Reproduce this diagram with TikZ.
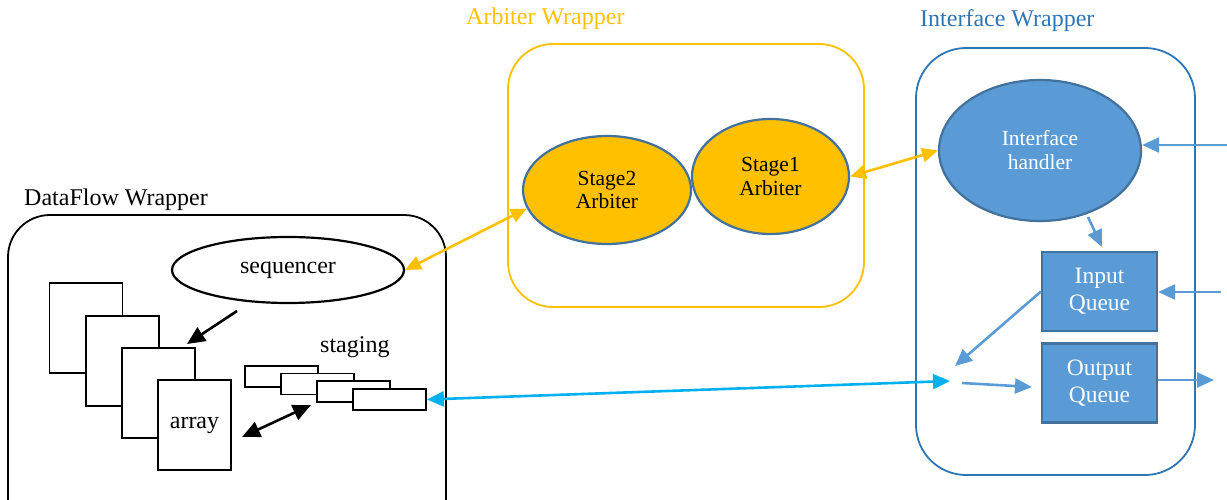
\documentclass[tikz,border=0pt]{standalone}
\usepackage{fontspec}
\setmainfont{Liberation Serif}
\usetikzlibrary{shapes.geometric,arrows.meta}
\definecolor{arbgold}{HTML}{FFC000}
\definecolor{ifblue}{HTML}{2E75B6}
\definecolor{fillblue}{HTML}{5B9BD5}
\definecolor{edgeblue}{HTML}{41719C}
\definecolor{linkcyan}{HTML}{00B0F0}
\tikzset{
  wrapper/.style={draw, line width=1.8pt, fill=none, inner sep=0pt},
  plainbox/.style={draw=black, line width=1.8pt, fill=white, inner sep=0pt,
    minimum width=73pt},
  goldell/.style={ellipse, draw=edgeblue, line width=2.2pt, fill=arbgold,
    inner sep=0pt, align=center, font=\fontsize{21.5}{23.5}\selectfont},
  blueell/.style={ellipse, draw=edgeblue, line width=2.2pt, fill=fillblue,
    inner sep=0pt, align=center, text=white, font=\fontsize{21.5}{24}\selectfont},
  queuebox/.style={draw=edgeblue, line width=2.2pt, fill=fillblue, inner sep=0pt,
    minimum width=115pt, minimum height=79pt, align=center, text=white,
    font=\fontsize{23.5}{27}\selectfont},
  blk/.style={draw=black, line width=2.6pt, -{Triangle[length=18pt,width=16pt]}},
  blkboth/.style={draw=black, line width=2.6pt,
    {Triangle[length=18pt,width=16pt]}-{Triangle[length=18pt,width=16pt]}},
  goldlink/.style={draw=arbgold, line width=2.6pt,
    {Triangle[length=16pt,width=14pt]}-{Triangle[length=16pt,width=14pt]}},
  cyanlink/.style={draw=linkcyan, line width=2.6pt,
    {Triangle[length=17pt,width=15pt]}-{Triangle[length=17pt,width=15pt]}},
  bluelink/.style={draw=fillblue, line width=2.6pt, -{Triangle[length=17pt,width=15pt]}},
  title/.style={anchor=base west, inner sep=0pt, font=\fontsize{24}{28}\selectfont},
}
\begin{document}
\begin{tikzpicture}[x=1pt,y=-1pt]
\useasboundingbox (0,0) rectangle (1227,500);
\clip (0,0) rectangle (1227,500);

% ---- wrappers ----
\node[wrapper, draw=black, rounded corners=42pt, minimum width=438pt,
  minimum height=330pt] (dfwrap) at (227,380) {};
\node[wrapper, draw=arbgold, rounded corners=45pt, minimum width=356pt,
  minimum height=263pt] (arbwrap) at (686,175.5) {};
\node[wrapper, draw=ifblue, rounded corners=50pt, minimum width=279pt,
  minimum height=427pt] (ifwrap) at (1055.5,261.5) {};

\node[title] (dftitle) at (24,206) {DataFlow Wrapper};
\node[title, text=arbgold] (arbtitle) at (466,25) {Arbiter Wrapper};
\node[title, text=ifblue] (iftitle) at (920,27) {Interface Wrapper};

% ---- dataflow wrapper content ----
\node[ellipse, draw=black, line width=2.2pt, fill=white, inner sep=0pt,
  minimum width=232pt, minimum height=66pt,
  font=\fontsize{24}{28}\selectfont] (seq) at (288,270) {sequencer};

\node[plainbox, minimum height=90pt] (arr1) at (86,328) {};
\node[plainbox, minimum height=90pt] (arr2) at (122.5,361) {};
\node[plainbox, minimum height=90pt] (arr3) at (158.5,393) {};
\node[plainbox, minimum height=90pt, font=\fontsize{24}{28}\selectfont]
  (arr4) at (194.5,425) {array};

\node[title] (stagetitle) at (320,352) {staging};
\node[plainbox, minimum height=21pt] (stg1) at (281.5,376.5) {};
\node[plainbox, minimum height=21pt] (stg2) at (317.5,384) {};
\node[plainbox, minimum height=21pt] (stg3) at (353.5,391.5) {};
\node[plainbox, minimum height=21pt] (stg4) at (389.5,399.5) {};

\coordinate (seqout) at (237,311);
\coordinate (arrin) at (187,344);
\draw[blk] (seqout) -- (arrin);

\coordinate (arrside) at (242,437);
\coordinate (stgside) at (311,405);
\draw[blkboth] (arrside) -- (stgside);

% ---- arbiter wrapper content ----
\node[goldell, minimum width=168pt, minimum height=108pt] (stage2) at (607,190)
  {Stage2\\Arbiter};
\node[goldell, minimum width=157pt, minimum height=115pt] (stage1) at (770.5,176.5)
  {Stage1\\Arbiter};

% ---- interface wrapper content ----
\node[blueell, minimum width=202pt, minimum height=141pt] (handler) at (1040,150.5)
  {Interface\\handler};
\node[queuebox] (inq) at (1099.5,291.5) {Input\\Queue};
\node[queuebox] (outq) at (1099.5,383) {Output\\Queue};

\coordinate (hostin) at (1227,145);
\coordinate (hostq) at (1221,292);
\coordinate (hostout) at (1214,380);
\coordinate (mergept) at (950,381);
\coordinate (splitpt) at (955,366);
\coordinate (fwdstart) at (962,383);
\coordinate (fwdend) at (1032,387);
\coordinate (hdlout) at (1088,217);
\coordinate (inqtop) at (1102,247);

\draw[bluelink] (hostin) -- (handler.east |- hostin);
\draw[bluelink] (hdlout) -- (inqtop);
\draw[bluelink] (hostq) -- (inq.east |- hostq);
\draw[bluelink] (inq.west) -- (splitpt);
\draw[bluelink] (fwdstart) -- (fwdend);
\draw[bluelink] (outq.east |- hostout) -- (hostout);

% ---- links between wrappers ----
\draw[goldlink] (seq.east) -- (stage2.193);
\draw[goldlink] (stage1.east) -- (handler.west);
\draw[cyanlink] (stg4.east) -- (mergept);
\end{tikzpicture}
\end{document}
